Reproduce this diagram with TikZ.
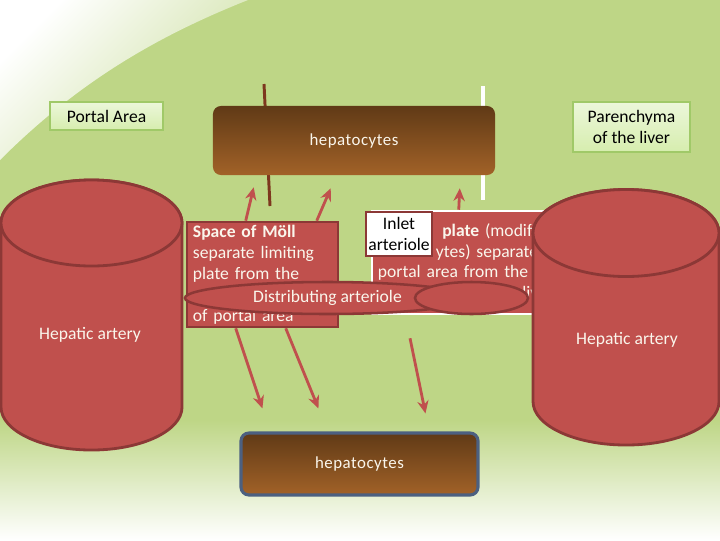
\documentclass[tikz,border=0pt]{standalone}
\usepackage{fontspec}
\setmainfont{Carlito}
\usetikzlibrary{shapes.geometric,arrows.meta}

\definecolor{bggreen}{RGB}{190,214,134}
\definecolor{artred}{RGB}{192,80,77}
\definecolor{artdark}{RGB}{140,56,54}
\definecolor{hepdark}{RGB}{96,58,22}
\definecolor{heplight}{RGB}{162,98,40}
\definecolor{hepborder}{RGB}{76,96,128}
\definecolor{hepfont}{RGB}{250,246,236}
\definecolor{lbltop}{RGB}{236,247,218}
\definecolor{lblbot}{RGB}{214,237,174}
\definecolor{lblborder}{RGB}{160,201,104}
\definecolor{brownline}{RGB}{125,55,30}

\tikzset{
  labelbox/.style={draw=lblborder, line width=0.8pt, top color=lbltop, bottom color=lblbot,
    inner sep=0pt, align=center, font=\fontsize{12.5}{14.9}\selectfont},
  hep/.style={rounded corners=0.2cm, top color=hepdark, bottom color=heplight, text=hepfont,
    inner sep=0pt, font=\fontsize{12}{14}\selectfont\addfontfeature{LetterSpace=3}},
  redbox/.style={draw=artdark, line width=1.8pt, fill=artred, text=hepfont, inner xsep=0.15cm,
    inner ysep=0pt, align=left, font=\fontsize{12.5}{14.9}\selectfont},
  oval/.style={ellipse, draw=artdark, line width=1.8pt, fill=artred, text=hepfont, inner sep=0pt,
    minimum height=0.8cm, font=\fontsize{12.5}{14}\selectfont},
  vessel/.style={draw=artdark, line width=2pt, fill=artred},
  arr/.style={draw=artred, line width=2pt, -{Stealth[length=9pt, width=8pt]}},
}

\begin{document}
\begin{tikzpicture}[x=0.025cm, y=-0.025cm]
  \useasboundingbox (0,0) rectangle (720,540);

  % Background
  \fill[bggreen] (0,0) rectangle (720,540);
  \shade[top color=bggreen, bottom color=white] (0,420) rectangle (720,540);
  \shade[top color=white, bottom color=bggreen!80!white, shading angle=45]
    (0,0) -- (248,0) .. controls (160,35) and (80,80) .. (0,160) -- cycle;

  % Lines behind the upper hepatocytes
  \coordinate (bt) at (264,84);
  \coordinate (bb) at (270,206);
  \coordinate (wt) at (483,86);
  \coordinate (wb) at (483,200);
  \draw[brownline, line width=2.1pt] (bt) -- (bb);
  \draw[white, line width=2.2pt] (wt) -- (wb);

  % Define nodes
  \node[hep, minimum width=7.05cm, minimum height=1.725cm] (heptop) at (354,140.5) {hepatocytes};

  \draw[vessel] (1,223) -- (1,407)
    arc[start angle=180, end angle=360, x radius=2.2625cm, y radius=1.075cm] -- (182,223)
    arc[start angle=0, end angle=180, x radius=2.2625cm, y radius=1.075cm] -- cycle;
  \draw[vessel] (91.5,223) ellipse [x radius=2.2625cm, y radius=1.075cm];
  \node[text=hepfont, font=\fontsize{12.5}{14}\selectfont] (leftart) at (90,335) {Hepatic artery};

  \node[redbox, text width=3.475cm, minimum height=2.625cm] (moll) at (262.5,274.5)
    {\textbf{Space of Möll}\\separate limiting\\plate from the\\\mbox{}\\of portal area};
  \node[redbox, draw=white, text width=4.025cm, minimum height=2.575cm] (plate) at (458.5,262.5)
    {\mbox{\phantom{\textbf{Limiting}} \textbf{plate} (modified}\\\mbox{\phantom{hepatoc}ytes) separate the}\\portal area from the\\\mbox{\phantom{parenchyma of the }liver}};

  \draw[vessel] (533,233) -- (533,401.5)
    arc[start angle=180, end angle=360, x radius=2.325cm, y radius=1.0875cm] -- (719,233)
    arc[start angle=0, end angle=180, x radius=2.325cm, y radius=1.0875cm] -- cycle;
  \draw[vessel] (626,233) ellipse [x radius=2.325cm, y radius=1.0875cm];
  \node[text=hepfont, font=\fontsize{12.5}{14}\selectfont] (rightart) at (627,340) {Hepatic artery};

  \node[draw=artdark, line width=1.8pt, fill=white, align=center, inner sep=0pt,
    minimum width=1.65cm, minimum height=1.1cm, font=\fontsize{12.5}{14.9}\selectfont]
    (inlet) at (399,234) {Inlet\\arteriole};

  \node[oval, minimum width=7.125cm] (dist) at (327.5,298) {Distributing arteriole};
  \node[oval, minimum width=2.825cm] (dist2) at (471.5,298) {};

  \node[labelbox, minimum width=2.825cm, minimum height=0.7cm] (portal) at (106.5,116) {Portal Area};
  \node[labelbox, minimum width=2.925cm, minimum height=1.25cm] (paren) at (631.5,127) {Parenchyma\\of the liver};

  \node[hep, draw=hepborder, line width=2.2pt, minimum width=5.925cm, minimum height=1.55cm]
    (hepbot) at (359.5,464) {hepatocytes};

  % Connect the nodes
  \draw[arr] ([xshift=1.5cm]moll.north west) -- ([xshift=1.025cm, yshift=-0.3cm]heptop.south west);
  \draw[arr] ([xshift=3.275cm]moll.north west) -- ([xshift=2.95cm, yshift=-0.325cm]heptop.south west);
  \draw[arr] ([xshift=2.2cm]plate.north west) -- ([xshift=6.175cm, yshift=-0.325cm]heptop.south west);
  \draw[arr] ([xshift=1.25cm]moll.south west) -- ([xshift=0.575cm, yshift=0.575cm]hepbot.north west);
  \draw[arr] ([xshift=2.5cm]moll.south west) -- ([xshift=1.975cm, yshift=0.575cm]hepbot.north west);
  \draw[arr] ([xshift=2.0625cm, yshift=-0.575cm]dist.south) -- ([xshift=4.65cm, yshift=0.45cm]hepbot.north west);

\end{tikzpicture}
\end{document}
